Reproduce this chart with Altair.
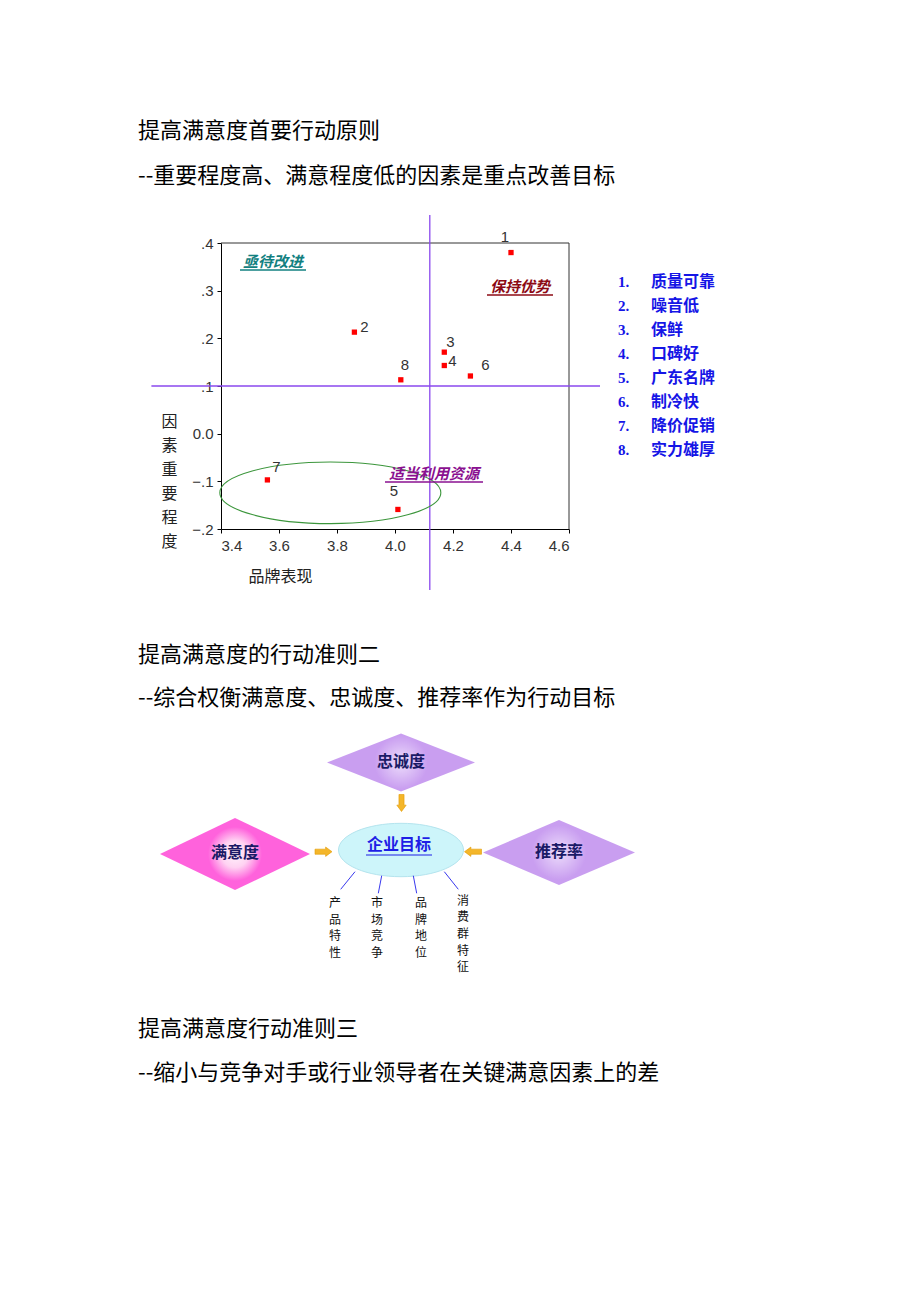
import altair as alt
import pandas as pd

# ---------------- data ----------------
factor_ids = [1, 2, 3, 4, 5, 6, 7, 8]
factor_names = ["质量可靠", "噪音低", "保鲜", "口碑好", "广东名牌", "制冷快", "降价促销", "实力雄厚"]
brand_performance = [4.40, 3.86, 4.17, 4.17, 4.01, 4.26, 3.56, 4.02]
factor_importance = [0.380, 0.213, 0.171, 0.143, -0.159, 0.121, -0.097, 0.113]
x_ticks = [3.4, 3.6, 3.8, 4.0, 4.2, 4.4, 4.6]
y_ticks = [-0.2, -0.1, 0.0, 0.1, 0.2, 0.3, 0.4]
performance_threshold = 4.12
importance_threshold = 0.10
quadrant_labels = ["亟待改进", "保持优势", "适当利用资源"]
x_title = "品牌表现"
y_title = "因素重要程度"

headings = [
    "提高满意度首要行动原则",
    "--重要程度高、满意程度低的因素是重点改善目标",
    "提高满意度的行动准则二",
    "--综合权衡满意度、忠诚度、推荐率作为行动目标",
    "提高满意度行动准则三",
    "--缩小与竞争对手或行业领导者在关键满意因素上的差",
]
goal_center = "企业目标"
goal_inputs = ["忠诚度", "满意度", "推荐率"]
goal_factors = ["产品特性", "市场竞争", "品牌地位", "消费群特征"]

# ---------------- scatter scales ----------------
X_SCALE = alt.Scale(domain=[3.4, 4.6], range=[221, 569], nice=False, zero=False)
Y_SCALE = alt.Scale(domain=[-0.2, 0.4], range=[529, 243], nice=False, zero=False)

X_AXIS = alt.Axis(
    values=x_ticks, format=".1f", offset=-773, grid=False,
    domainColor="#000", tickColor="#000", tickSize=4, labelOverlap=False,
    labelFont="Liberation Sans", labelFontSize=15, labelColor="#333", labelPadding=5,
    title=x_title, titleFont="Noto Sans CJK SC", titleFontSize=16, titleFontWeight="normal",
    titleColor="#222", titleX=280, titleY=47, titleAlign="center", titleBaseline="middle",
)
Y_AXIS = alt.Axis(
    values=y_ticks, offset=-221, grid=False,
    labelExpr="datum.value == 0 ? '0.0' : replace(format(datum.value, '.1f'), '0.', '.')",
    domainColor="#000", tickColor="#000", tickSize=4, labelOverlap=False,
    labelFont="Liberation Sans", labelFontSize=15, labelColor="#333", labelPadding=4,
    title=list(y_title), titleAngle=0, titleFont="Noto Sans CJK SC", titleFontSize=16,
    titleFontWeight="normal", titleColor="#222", titleX=-52, titleY=421,
    titleAlign="center", titleBaseline="middle", titleLineHeight=24,
)


def X(field):
    return alt.X(field, type="quantitative", scale=X_SCALE, axis=X_AXIS)


def Y(field):
    return alt.Y(field, type="quantitative", scale=Y_SCALE, axis=Y_AXIS)


pts = pd.DataFrame({"id": factor_ids, "x": brand_performance, "y": factor_importance})
one = pd.DataFrame({"k": [0]})
layers = []

# frame (top & right)
frame = pd.DataFrame({"x": [3.4, 4.6], "x2": [4.6, 4.6], "y": [0.4, -0.2], "y2": [0.4, 0.4]})
layers.append(alt.Chart(frame).mark_rule(color="#333", strokeWidth=1).encode(
    x=X("x"), x2="x2", y=Y("y"), y2="y2"))

# crosshair
cross = pd.DataFrame({
    "x": [performance_threshold, 3.16], "x2": [performance_threshold, 4.707],
    "y": [0.459, importance_threshold], "y2": [-0.328, importance_threshold]})
layers.append(alt.Chart(cross).mark_rule(color="#8a48ee", strokeWidth=1.3).encode(
    x=X("x"), x2="x2", y=Y("y"), y2="y2"))

# ellipse around low-importance factors
ell = pd.DataFrame({"x": [3.777], "y": [-0.124]})
layers.append(alt.Chart(ell).mark_point(
    shape="M -1 0 A 1 0.279 0 1 1 1 0 A 1 0.279 0 1 1 -1 0 Z",
    size=221 * 221, filled=False, stroke="#3c963c", strokeWidth=1.1, opacity=1).encode(
    x=X("x"), y=Y("y")))

# points
layers.append(alt.Chart(pts).mark_square(size=28, color="#ff0000", opacity=1).encode(
    x=X("x"), y=Y("y")))

# point labels
label_offsets = {1: (-6, -16), 2: (10, -5), 3: (6, -10), 4: (8, -5),
                 5: (-4, -18), 6: (15, -11), 7: (9, -13), 8: (4, -15)}
for fid, (dx, dy) in label_offsets.items():
    layers.append(alt.Chart(pts).transform_filter(alt.datum.id == fid).mark_text(
        dx=dx, dy=dy, font="Liberation Sans", fontSize=15, color="#333",
        align="center", baseline="middle").encode(
        x=X("x"), y=Y("y"), text=alt.Text("id:N")))

# quadrant labels (italic, underlined)
q_style = [((273, 262), (240, 306, 270), "#128080"),
           ((520, 287), (487, 553, 295), "#8c0a14"),
           ((434, 474), (385, 483, 482), "#8a1090")]
for lab, ((tx, ty), (u1, u2, uy), col) in zip(quadrant_labels, q_style):
    layers.append(alt.Chart(one).mark_text(
        font="Noto Sans CJK SC", fontSize=15, fontWeight="bold", fontStyle="italic",
        color=col, align="center", baseline="middle").encode(
        x=alt.value(tx), y=alt.value(ty), text=alt.value(lab)))
    layers.append(alt.Chart(one).mark_rule(color=col, strokeWidth=1.3).encode(
        x=alt.value(u1), x2=alt.value(u2), y=alt.value(uy)))

# legend of factors
for i, (fid, name) in enumerate(zip(factor_ids, factor_names)):
    yy = 281.5 + 24 * i
    layers.append(alt.Chart(one).mark_text(
        font="Liberation Serif", fontSize=15, fontWeight="bold", color="#1515e6",
        align="left", baseline="middle").encode(
        x=alt.value(618), y=alt.value(yy), text=alt.value(f"{fid}.")))
    layers.append(alt.Chart(one).mark_text(
        font="Noto Sans CJK SC", fontSize=16, fontWeight="bold", color="#1515e6",
        align="left", baseline="middle").encode(
        x=alt.value(651), y=alt.value(yy), text=alt.value(name)))

# headings
heading_y = [131, 176, 655, 698, 1029, 1073]
for txt, yy in zip(headings, heading_y):
    layers.append(alt.Chart(one).mark_text(
        font="Noto Sans CJK SC", fontSize=22, color="#000",
        align="left", baseline="middle").encode(
        x=alt.value(138), y=alt.value(yy), text=alt.value(txt)))

# ---------------- goal diagram ----------------
def diamond(ratio):
    return f"M -1 0 L 0 -{ratio} L 1 0 L 0 {ratio} Z"


lav = alt.RadialGradient(gradient="radial", stops=[
    alt.GradientStop(offset=0, color="#ecdcfb"),
    alt.GradientStop(offset=0.36, color="#c99ef0"),
    alt.GradientStop(offset=1, color="#c99ef0")])
pink = alt.RadialGradient(gradient="radial", stops=[
    alt.GradientStop(offset=0, color="#fff4fb"),
    alt.GradientStop(offset=0.18, color="#ffd2f2"),
    alt.GradientStop(offset=0.36, color="#ff62dc"),
    alt.GradientStop(offset=1, color="#ff62dc")])

diamonds = [((401, 762.5), 74, 0.392, lav),
            ((235, 854), 75, 0.48, pink),
            ((559, 852.5), 76, 0.428, lav)]
for (cx, cy), hw, ratio, fill in diamonds:
    layers.append(alt.Chart(one).mark_point(
        shape=diamond(ratio), size=(2 * hw) ** 2, filled=True, fill=fill,
        strokeWidth=0, opacity=1).encode(x=alt.value(cx), y=alt.value(cy)))

# central ellipse
layers.append(alt.Chart(one).mark_point(
    shape="M -1 0 A 1 0.427 0 1 1 1 0 A 1 0.427 0 1 1 -1 0 Z", size=125 * 125,
    filled=True, fill="#cdf5fa", stroke="#b4e4ee", strokeWidth=1, opacity=1).encode(
    x=alt.value(401), y=alt.value(850)))

# arrows
arrow = "M -0.3 -1 L 0.3 -1 L 0.3 0.25 L 0.55 0.25 L 0 1 L -0.55 0.25 L -0.3 0.25 Z"
for (ax, ay), ang in [((401.5, 803), 0), ((323.5, 851.7), 270), ((473, 851.7), 90)]:
    layers.append(alt.Chart(one).mark_point(
        shape=arrow, size=17 * 17, filled=True, fill="#f4b62a", stroke="#e39a00",
        strokeWidth=0.6, angle=ang, opacity=1).encode(x=alt.value(ax), y=alt.value(ay)))

# diamond labels
for txt, (cx, cy) in zip(goal_inputs, [(401, 762), (235, 853), (559, 852)]):
    layers.append(alt.Chart(one).mark_text(
        font="Noto Sans CJK SC", fontSize=16, fontWeight="bold", color="#1a1a66",
        align="center", baseline="middle").encode(
        x=alt.value(cx), y=alt.value(cy), text=alt.value(txt)))

layers.append(alt.Chart(one).mark_text(
    font="Noto Sans CJK SC", fontSize=16, fontWeight="bold", color="#1e1ee6",
    align="center", baseline="middle").encode(
    x=alt.value(399), y=alt.value(845), text=alt.value(goal_center)))
layers.append(alt.Chart(one).mark_rule(color="#1e1ee6", strokeWidth=1.2).encode(
    x=alt.value(366), x2=alt.value(432), y=alt.value(855)))

# connector lines
for (x1, y1, x2, y2) in [(355, 871.7, 340.7, 889.3), (381.7, 875.7, 378.3, 893.3),
                         (413.3, 875.7, 416.7, 893.3), (444.3, 871.7, 458.3, 889.3)]:
    layers.append(alt.Chart(one).mark_rule(color="#3838ee", strokeWidth=1).encode(
        x=alt.value(x1), y=alt.value(y1), x2=alt.value(x2), y2=alt.value(y2)))

# vertical factor labels
for txt, (fx, fy) in zip(goal_factors, [(335, 903), (377, 903), (421, 903), (463, 900.5)]):
    layers.append(alt.Chart(one).mark_text(
        font="Noto Sans CJK SC", fontSize=12, color="#111", lineBreak="\n",
        lineHeight=16.7, align="center", baseline="middle").encode(
        x=alt.value(fx), y=alt.value(fy), text=alt.value("\n".join(txt))))

chart = alt.layer(*layers).properties(
    width=920, height=1302, padding=0, background="white",
    autosize=alt.AutoSizeParams(type="none"),
).configure_view(stroke=None)

chart.save("out.html", embed_options={"renderer": "svg", "actions": False})
